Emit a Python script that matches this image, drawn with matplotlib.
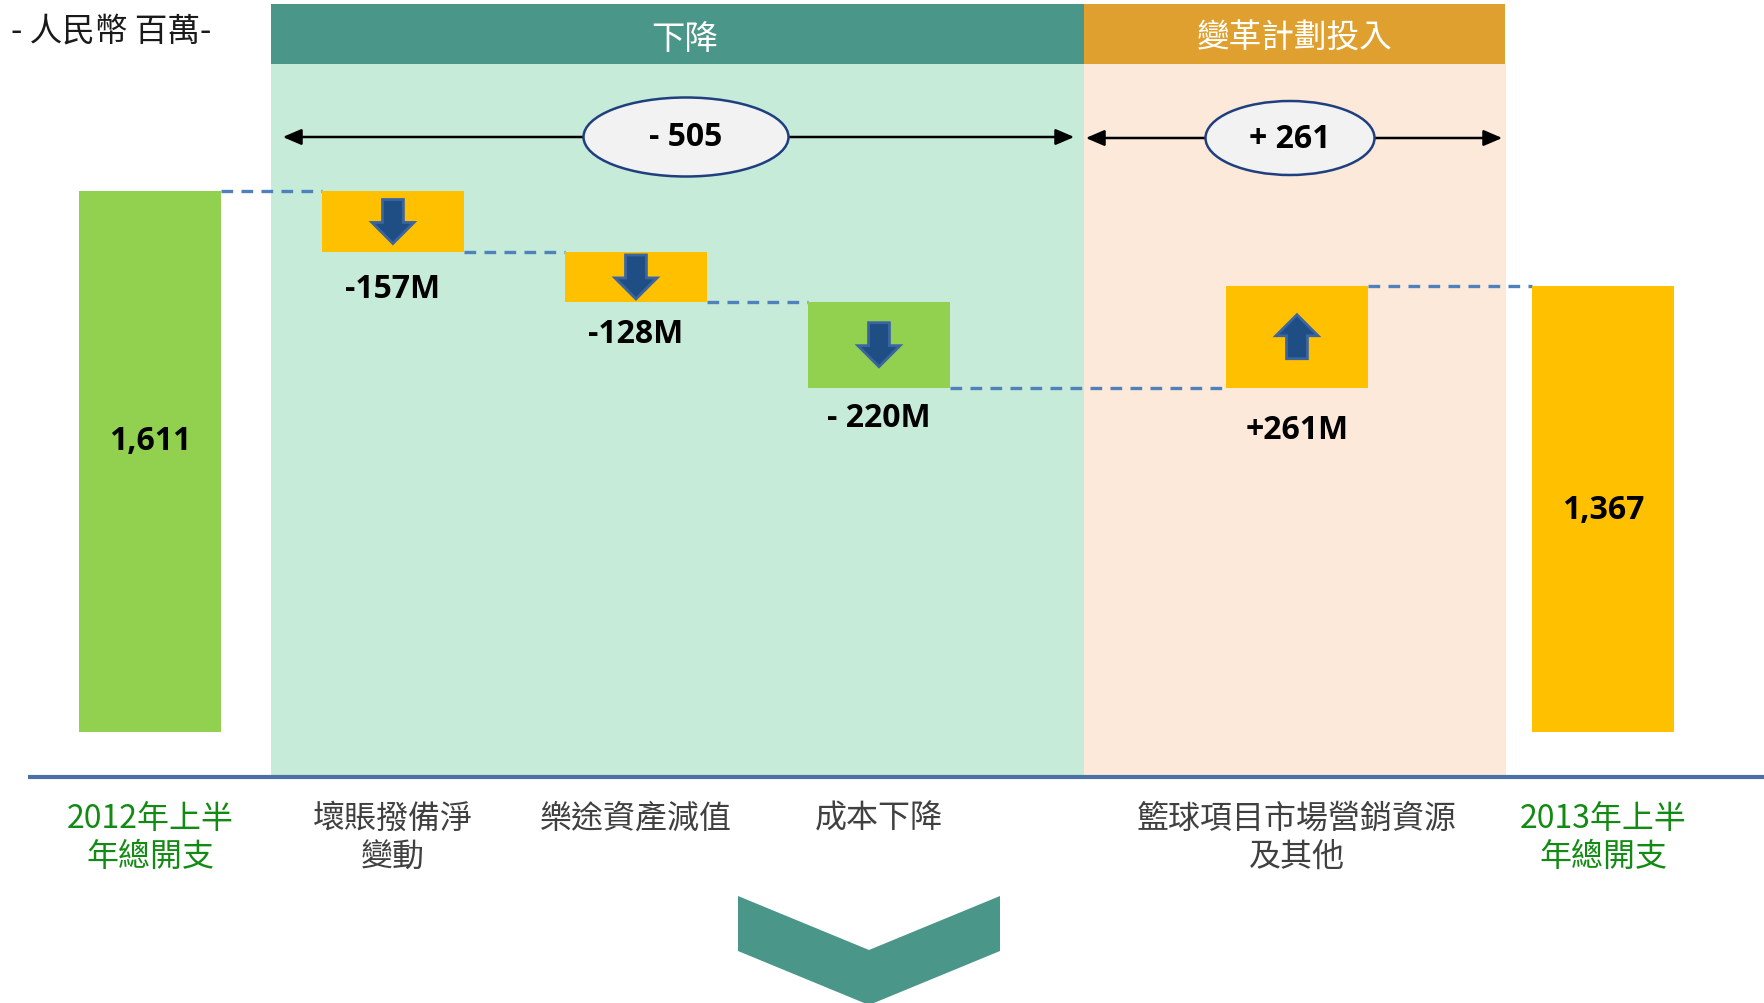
import numpy as np
import matplotlib
matplotlib.use('Agg')
import matplotlib.pyplot as plt
from matplotlib.patches import Rectangle, Ellipse, Polygon, FancyArrowPatch, FancyArrow
from matplotlib.transforms import blended_transform_factory

plt.rcParams['font.family'] = ['Noto Sans CJK TC', 'DejaVu Sans']

# data
categories = ['2012年上半\n年總開支', '壞賬撥備淨\n變動', '樂途資產減值', '成本下降',
              '籃球項目市場營銷資源\n及其他', '2013年上半\n年總開支']
start_total = 1611
changes = [-157, -128, -220, 261]
end_total = 1367
value_labels = ['1,611', '-157M', '-128M', '- 220M', '+261M', '1,367']
group_names = ['下降', '變革計劃投入']
group_sums = ['- 505', '+ 261']
unit_label = '- 人民幣 百萬-'

# layout / style
xpos = np.array([0, 1, 2, 3, 4.72, 5.98])
bar_w = 0.584
floor = 220
bar_colors = ['#92d050', '#ffc000', '#ffc000', '#92d050', '#ffc000', '#ffc000']
cat_colors = ['#138a13', '#404040', '#404040', '#404040', '#404040', '#138a13']
label_off = [0, 36, 32, 30, 42, 0]
total_pos = [0.54, 0.50]

levels = start_total + np.cumsum([0] + changes)   # 1611, 1454, 1326, 1106, 1367
bottoms = [floor] + [min(levels[i], levels[i + 1]) for i in range(len(changes))] + [floor]
heights = [start_total - floor] + [abs(c) for c in changes] + [end_total - floor]

fig = plt.figure(figsize=(17.65, 10.04), dpi=100)

# decoration layer in pixel coords
deco = fig.add_axes([0, 0, 1, 1])
deco.set_xlim(0, 1765)
deco.set_ylim(1004, 0)
deco.axis('off')

# data layer
ax = fig.add_axes([0, 0, 1, 1])
ax.set_xlim(-0.617, 6.646)
ax.set_ylim(-475, 2104)
ax.axis('off')
ax.patch.set_alpha(0)

# panels and headers
deco.add_patch(Rectangle((271, 65), 813, 712, color='#c6ebd9', lw=0))
deco.add_patch(Rectangle((1084, 65), 422, 712, color='#fde9da', lw=0))
deco.add_patch(Rectangle((271, 5), 813, 60, color='#4a9688', lw=0))
deco.add_patch(Rectangle((1084, 5), 421, 60, color='#dfa030', lw=0))
deco.text(685, 39, group_names[0], color='white', fontsize=24, ha='center', va='center')
deco.text(1295, 39, group_names[1], color='white', fontsize=23.5, ha='center', va='center')
deco.text(11, 31, unit_label, color='#1a1a1a', fontsize=23.5, ha='left', va='center')

# span arrows with ellipses
for (x0, x1, y), (cx, w, h), s in zip([(280, 1077, 138), (1083, 1505, 139)],
                                      [(686, 205, 79), (1290, 169, 74)], group_sums):
    deco.add_patch(FancyArrowPatch((x0, y), (x1, y), arrowstyle='<|-|>,head_length=0.7,head_width=0.3',
                                   mutation_scale=16, lw=1.8, color='black', zorder=2))
    deco.add_patch(Ellipse((cx, y), w, h, facecolor='#f2f2f2', edgecolor='#1f3f7f', lw=1.8, zorder=3))
    deco.text(cx, y, s, fontsize=23, fontweight='bold', family=['Open Sans', 'DejaVu Sans'],
              ha='center', va='center', zorder=4)

# baseline
deco.plot([28, 1765], [778, 778], color='#4a70a5', lw=3, solid_capstyle='butt')

# chevron
deco.add_patch(Polygon([(738, 897), (869, 951), (1000, 897), (1000, 952), (869, 1006), (738, 952)],
                       closed=True, color='#4a9688', lw=0))

# bars
ax.bar(xpos, heights, bar_w, bottom=bottoms, color=bar_colors, linewidth=0, zorder=2)

# dashed connectors
for i in range(len(levels)):
    ax.plot([xpos[i] + bar_w / 2, xpos[i + 1] - bar_w / 2], [levels[i], levels[i]],
            color='#4f81bd', lw=2.4, dashes=(3.5, 2.5), zorder=1)

# block arrows inside change bars
L, hl = 113, 54
for i, c in enumerate(changes):
    k = i + 1
    mid = bottoms[k] + heights[k] / 2
    sgn = -1 if c < 0 else 1
    ax.add_patch(FancyArrow(xpos[k], mid - sgn * L / 2, 0, sgn * L, width=0.086, head_width=0.173,
                            head_length=hl, length_includes_head=True,
                            facecolor='#1f4e85', edgecolor='#3b64a3', lw=2, zorder=3))

# value labels
for k in range(len(xpos)):
    if k in (0, len(xpos) - 1):
        frac = total_pos[0] if k == 0 else total_pos[1]
        ax.text(xpos[k], bottoms[k] + heights[k] * frac, value_labels[k], fontsize=23,
                fontweight='bold', family=['Open Sans', 'DejaVu Sans'], ha='center', va='center', zorder=4)
    else:
        ax.annotate(value_labels[k], xy=(xpos[k], bottoms[k]), xytext=(0, -label_off[k]),
                    textcoords='offset pixels', fontsize=23, fontweight='bold',
                    family=['Open Sans', 'DejaVu Sans'], ha='center', va='center', zorder=4)

# category labels
tr = blended_transform_factory(ax.transData, deco.transData)
for k, lab in enumerate(categories):
    ax.text(xpos[k], 803, lab, transform=tr, color=cat_colors[k], fontsize=23,
            ha='center', va='top', linespacing=1.25)

fig.savefig('out.png', dpi=100)
